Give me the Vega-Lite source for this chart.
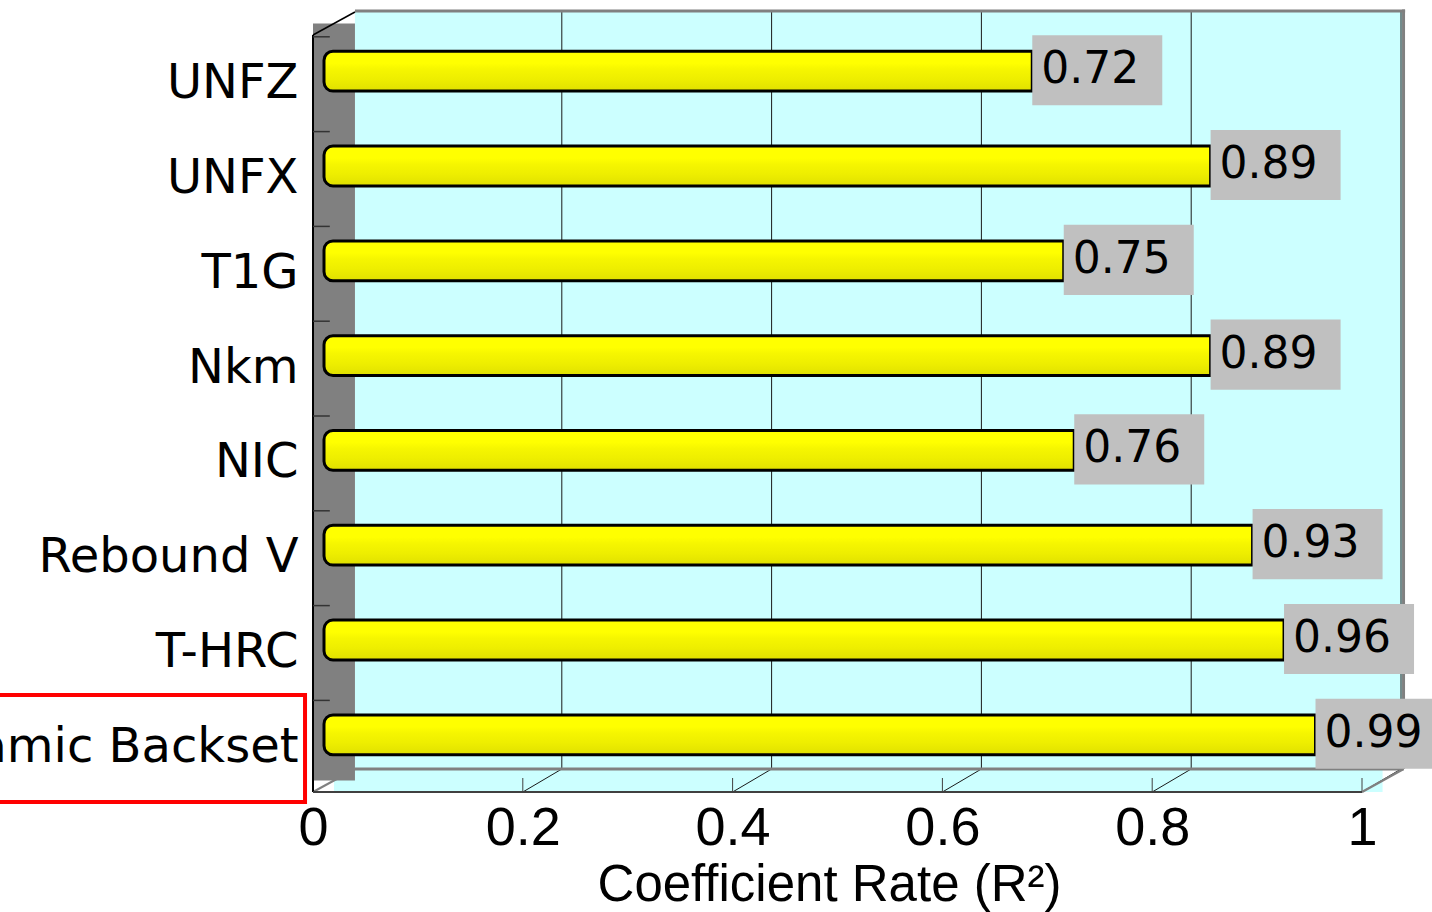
{
  "$schema": "https://vega.github.io/schema/vega-lite/v6.json",
  "width": 1049,
  "height": 762,
  "autosize": {"type": "none"},
  "padding": {"left": 313, "top": 35, "right": 70, "bottom": 115},
  "background": "white",
  "config": {
    "view": {"stroke": null},
    "axisX": {
      "domain": false, "ticks": false, "grid": false,
      "labelFont": "Liberation Sans", "labelFontSize": 54, "labelColor": "black",
      "labelPadding": 4, "labelFlush": false, "labelOverlap": false,
      "titleFont": "Liberation Sans", "titleFontSize": 51, "titleFontWeight": "normal",
      "titleColor": "black", "titlePadding": 5, "titleX": 516
    },
    "axisY": {
      "title": null, "domain": false, "ticks": false, "grid": false,
      "labelFont": "DejaVu Sans", "labelFontSize": 48, "labelColor": "black",
      "labelPadding": 15, "labelLimit": 1000
    }
  },
  "datasets": {
    "ticks": [{"t": 0.2}, {"t": 0.4}, {"t": 0.6}, {"t": 0.8}, {"t": 1}],
    "one": [{}]
  },
  "data": {"values": [
    {"measure": "UNFZ", "r2": 0.72},
    {"measure": "UNFX", "r2": 0.89},
    {"measure": "T1G", "r2": 0.75},
    {"measure": "Nkm", "r2": 0.89},
    {"measure": "NIC", "r2": 0.76},
    {"measure": "Rebound V", "r2": 0.93},
    {"measure": "T-HRC", "r2": 0.96},
    {"measure": "Dynamic Backset", "r2": 0.99}
  ]},
  "resolve": {"scale": {"y": "independent"}, "axis": {"y": "independent"}},
  "layer": [
    {
      "data": {"name": "one"},
      "mark": {"type": "rect", "fill": "#CCFFFF"},
      "encoding": {
        "x": {"datum": 0.04, "type": "quantitative", "scale": {"domain": [0, 1], "nice": false, "zero": false}},
        "x2": {"datum": 1.0396},
        "y": {"datum": 23, "type": "quantitative", "scale": {"domain": [-5, 757], "nice": false, "zero": false}, "axis": null},
        "y2": {"datum": 780}
      }
    },
    {
      "data": {"name": "one"},
      "mark": {"type": "rect", "fill": "#CCFFFF"},
      "encoding": {
        "x": {"datum": 0.02, "type": "quantitative"},
        "x2": {"datum": 1.0196},
        "y": {"datum": 0, "type": "quantitative", "scale": {"domain": [-5, 757], "nice": false, "zero": false}, "axis": null},
        "y2": {"datum": 23}
      }
    },
    {
      "data": {"name": "one"},
      "mark": {"type": "rect", "fill": "#808080"},
      "encoding": {
        "x": {"datum": 0, "type": "quantitative"},
        "x2": {"datum": 0.04},
        "y": {"datum": 11.5, "type": "quantitative", "scale": {"domain": [-5, 757], "nice": false, "zero": false}, "axis": null},
        "y2": {"datum": 768.5}
      }
    },
    {
      "data": {"name": "ticks"},
      "mark": {"type": "rule", "stroke": "#1a1a1a", "strokeWidth": 1, "xOffset": 39},
      "encoding": {
        "x": {"field": "t", "type": "quantitative"},
        "y": {"datum": 23, "type": "quantitative", "scale": {"domain": [-5, 757], "nice": false, "zero": false}, "axis": null},
        "y2": {"datum": 780}
      }
    },
    {
      "data": {"name": "ticks"},
      "mark": {"type": "rule", "stroke": "#1a1a1a", "strokeWidth": 1, "x2Offset": 39},
      "encoding": {
        "x": {"field": "t", "type": "quantitative"},
        "x2": {"field": "t"},
        "y": {"datum": 0, "type": "quantitative", "scale": {"domain": [-5, 757], "nice": false, "zero": false}, "axis": null},
        "y2": {"datum": 23}
      }
    },
    {
      "data": {"name": "ticks"},
      "mark": {"type": "rule", "stroke": "#404040", "strokeWidth": 1},
      "encoding": {
        "x": {"field": "t", "type": "quantitative"},
        "y": {"datum": 0, "type": "quantitative", "scale": {"domain": [-5, 757], "nice": false, "zero": false}, "axis": null},
        "y2": {"datum": 14}
      }
    },
    {
      "data": {"name": "one"},
      "mark": {"type": "rule", "stroke": "#808080", "strokeWidth": 3},
      "encoding": {
        "x": {"datum": 0.04, "type": "quantitative"},
        "x2": {"datum": 1.0396},
        "y": {"datum": 23, "type": "quantitative", "scale": {"domain": [-5, 757], "nice": false, "zero": false}, "axis": null}
      }
    },
    {
      "data": {"name": "one"},
      "mark": {"type": "rule", "stroke": "#808080", "strokeWidth": 2.5},
      "encoding": {
        "x": {"datum": 1, "type": "quantitative"},
        "x2": {"datum": 1.0396},
        "y": {"datum": 0, "type": "quantitative", "scale": {"domain": [-5, 757], "nice": false, "zero": false}, "axis": null},
        "y2": {"datum": 23}
      }
    },
    {
      "data": {"name": "one"},
      "mark": {"type": "rule", "stroke": "#808080", "strokeWidth": 2},
      "encoding": {
        "x": {"datum": 0, "type": "quantitative"},
        "x2": {"datum": 0.04},
        "y": {"datum": 0, "type": "quantitative", "scale": {"domain": [-5, 757], "nice": false, "zero": false}, "axis": null},
        "y2": {"datum": 23}
      }
    },
    {
      "data": {"name": "one"},
      "mark": {"type": "rule", "stroke": "#808080", "strokeWidth": 3},
      "encoding": {
        "x": {"datum": 0.04, "type": "quantitative"},
        "x2": {"datum": 1.0411},
        "y": {"datum": 781, "type": "quantitative", "scale": {"domain": [-5, 757], "nice": false, "zero": false}, "axis": null}
      }
    },
    {
      "data": {"name": "one"},
      "mark": {"type": "rule", "stroke": "#808080", "strokeWidth": 3},
      "encoding": {
        "x": {"datum": 1.0396, "type": "quantitative"},
        "y": {"datum": 23, "type": "quantitative", "scale": {"domain": [-5, 757], "nice": false, "zero": false}, "axis": null},
        "y2": {"datum": 782.5}
      }
    },
    {
      "data": {"name": "one"},
      "mark": {"type": "rule", "stroke": "#000000", "strokeWidth": 2},
      "encoding": {
        "x": {"datum": 0, "type": "quantitative"},
        "y": {"datum": 0, "type": "quantitative", "scale": {"domain": [-5, 757], "nice": false, "zero": false}, "axis": null},
        "y2": {"datum": 757}
      }
    },
    {
      "data": {"name": "one"},
      "mark": {"type": "rule", "stroke": "#000000", "strokeWidth": 1.5},
      "encoding": {
        "x": {"datum": 0, "type": "quantitative"},
        "x2": {"datum": 0.04},
        "y": {"datum": 757, "type": "quantitative", "scale": {"domain": [-5, 757], "nice": false, "zero": false}, "axis": null},
        "y2": {"datum": 780}
      }
    },
    {
      "data": {"name": "one"},
      "mark": {"type": "rule", "stroke": "#404040", "strokeWidth": 2},
      "encoding": {
        "x": {"datum": 0, "type": "quantitative"},
        "x2": {"datum": 1},
        "y": {"datum": 0, "type": "quantitative", "scale": {"domain": [-5, 757], "nice": false, "zero": false}, "axis": null}
      }
    },
    {
      "data": {"name": "one"},
      "mark": {"type": "rect", "fillOpacity": 0, "stroke": "#FF0000", "strokeWidth": 4},
      "encoding": {
        "x": {"datum": -0.31, "type": "quantitative"},
        "x2": {"datum": -0.0076},
        "y": {"datum": 97, "type": "quantitative", "scale": {"domain": [-5, 757], "nice": false, "zero": false}, "axis": null},
        "y2": {"datum": -10}
      }
    },
    {
      "mark": {"type": "rule", "stroke": "#333333", "strokeWidth": 1.5},
      "encoding": {
        "y": {"field": "measure", "type": "nominal", "sort": null, "bandPosition": 0,
              "scale": {"type": "band", "paddingInner": 0, "paddingOuter": 0.019}, "axis": null},
        "x": {"datum": 0, "type": "quantitative"},
        "x2": {"datum": 0.016}
      }
    },
    {
      "mark": {
        "type": "bar", "orient": "horizontal",
        "height": {"band": 0.42}, "yOffset": -13, "xOffset": -36, "x2Offset": 11,
        "cornerRadiusTopLeft": 9, "cornerRadiusBottomLeft": 9,
        "stroke": "black", "strokeWidth": 3,
        "fill": {"gradient": "linear", "x1": 0, "y1": 0, "x2": 0, "y2": 1, "stops": [
          {"offset": 0, "color": "#FFFF00"},
          {"offset": 0.3, "color": "#FFFF00"},
          {"offset": 0.45, "color": "#F6F600"},
          {"offset": 0.7, "color": "#EEEE00"},
          {"offset": 1, "color": "#E0E000"}
        ]}
      },
      "encoding": {
        "y": {"field": "measure", "type": "nominal", "sort": null,
              "scale": {"type": "band", "paddingInner": 0, "paddingOuter": 0.019},
              "axis": {"title": null}},
        "x": {"field": "r2", "type": "quantitative",
              "scale": {"domain": [0, 1], "nice": false, "zero": false},
              "axis": {"values": [0, 0.2, 0.4, 0.6, 0.8, 1], "format": "~g", "title": "Coefficient Rate (R²)"}},
        "x2": {"datum": 0}
      }
    },
    {
      "mark": {"type": "bar", "height": {"band": 0.74}, "yOffset": -14, "xOffset": -36, "x2Offset": 94, "fill": "#C0C0C0"},
      "encoding": {
        "y": {"field": "measure", "type": "nominal", "sort": null,
              "scale": {"type": "band", "paddingInner": 0, "paddingOuter": 0.019}, "axis": null},
        "x": {"field": "r2", "type": "quantitative"},
        "x2": {"field": "r2"}
      }
    },
    {
      "mark": {"type": "text", "align": "left", "baseline": "middle", "dx": -27, "yOffset": -14,
               "font": "DejaVu Sans", "fontSize": 44, "color": "black"},
      "encoding": {
        "y": {"field": "measure", "type": "nominal", "sort": null,
              "scale": {"type": "band", "paddingInner": 0, "paddingOuter": 0.019}, "axis": null},
        "x": {"field": "r2", "type": "quantitative"},
        "text": {"field": "r2", "type": "quantitative", "format": ".2f"}
      }
    }
  ]
}
